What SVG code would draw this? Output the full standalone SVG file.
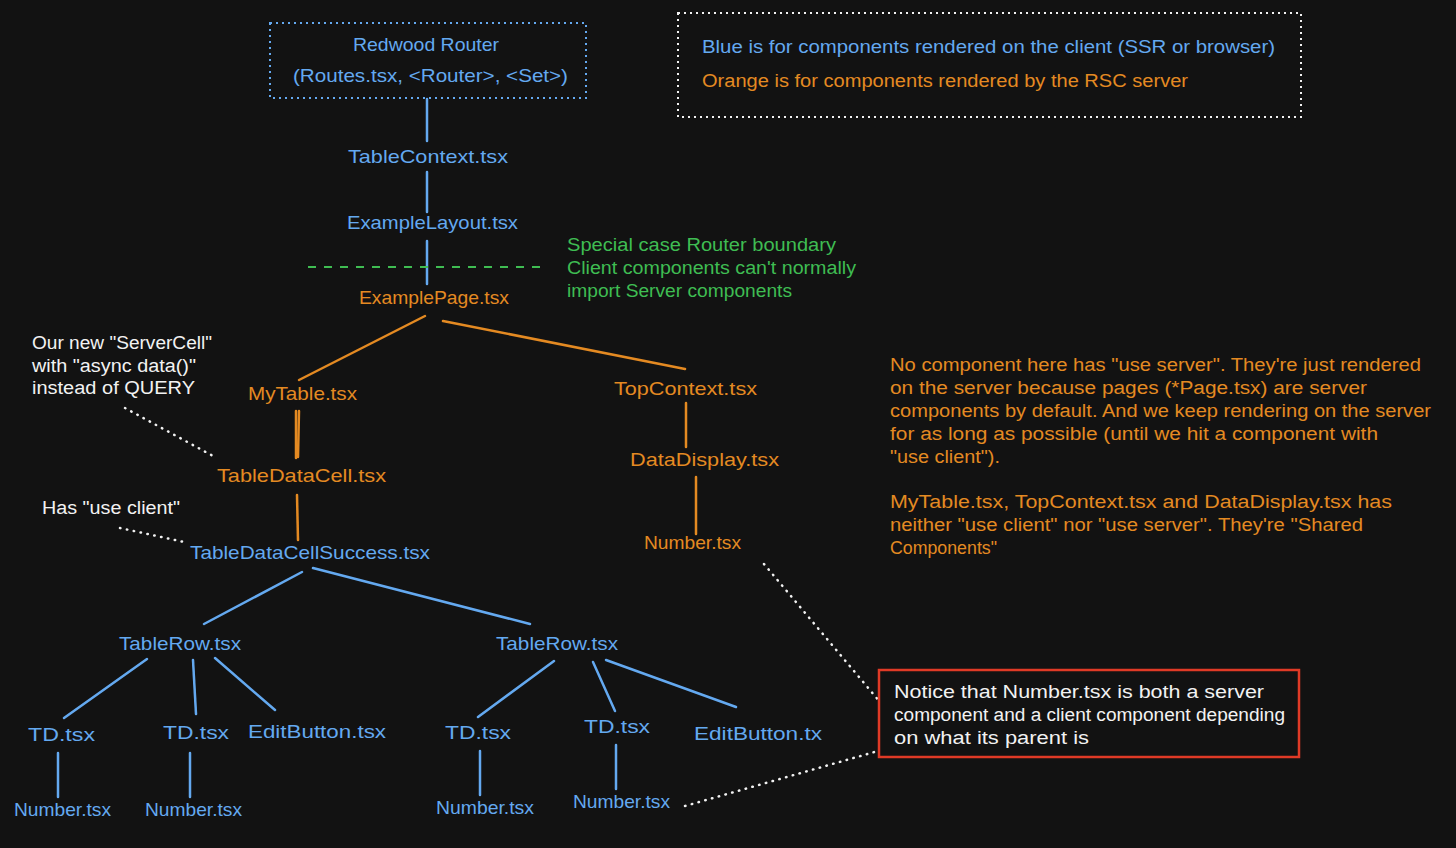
<svg xmlns="http://www.w3.org/2000/svg" width="1456" height="848" viewBox="0 0 1456 848">
<style>
text{font-family:"Liberation Sans","DejaVu Sans",sans-serif;font-size:18px}
.n{font-size:19px}
.b{fill:#64a9f0}
.o{fill:#e48a22}
.g{fill:#3fbd52}
.w{fill:#f2f2f2}
.lb{stroke:#64a9f0;stroke-width:2.5;stroke-linecap:round;fill:none}
.lo{stroke:#e48a22;stroke-width:2.5;stroke-linecap:round;fill:none}
.dot{stroke:#f2f2f2;stroke-width:2.5;stroke-linecap:round;stroke-dasharray:0.5 6.5;fill:none}
</style>
<rect width="1456" height="848" fill="#121212"/>

<g id="connectors">
<line class="lb" x1="427" y1="99" x2="427" y2="141"/>
<line class="lb" x1="427" y1="172" x2="427" y2="212"/>
<line class="lb" x1="427" y1="241" x2="427" y2="284"/>
<line x1="308" y1="267" x2="548" y2="267" stroke="#3fbd52" stroke-width="2" stroke-dasharray="8 8"/>
<line class="lo" x1="425" y1="316" x2="299" y2="380"/>
<line class="lo" x1="443" y1="321" x2="685" y2="369"/>
<line class="lo" x1="296" y1="411" x2="296" y2="458"/>
<line class="lo" x1="299" y1="411" x2="298" y2="457"/>
<line class="lo" x1="686" y1="403" x2="686" y2="447"/>
<line class="lo" x1="297" y1="495" x2="298" y2="540"/>
<line class="lo" x1="696" y1="477" x2="696" y2="534"/>
<line class="lb" x1="302" y1="572" x2="204" y2="624"/>
<line class="lb" x1="313" y1="568" x2="530" y2="624"/>
<line class="lb" x1="147" y1="659" x2="64" y2="718"/>
<line class="lb" x1="193" y1="660" x2="196" y2="714"/>
<line class="lb" x1="215" y1="658" x2="275" y2="710"/>
<line class="lb" x1="58" y1="753" x2="58" y2="797"/>
<line class="lb" x1="190" y1="753" x2="190" y2="797"/>
<line class="lb" x1="554" y1="661" x2="478" y2="717"/>
<line class="lb" x1="593" y1="662" x2="615" y2="711"/>
<line class="lb" x1="606" y1="660" x2="736" y2="707"/>
<line class="lb" x1="480" y1="751" x2="480" y2="795"/>
<line class="lb" x1="616" y1="745" x2="616" y2="789"/>
<line class="dot" x1="125" y1="408" x2="213" y2="456"/>
<line class="dot" x1="120" y1="528" x2="184" y2="542"/>
<line class="dot" x1="764" y1="564" x2="880" y2="702"/>
<line class="dot" x1="685" y1="806" x2="878" y2="751"/>
</g>

<g id="legend">
<rect x="678" y="13" width="623" height="104" fill="none" stroke="#f2f2f2" stroke-width="2" stroke-dasharray="2 4"/>
<text class="b" x="702" y="53" textLength="573" lengthAdjust="spacingAndGlyphs">Blue is for components rendered on the client (SSR or browser)</text>
<text class="o" x="702" y="87" textLength="486" lengthAdjust="spacingAndGlyphs">Orange is for components rendered by the RSC server</text>
</g>

<g id="redwood-router">
<rect x="270" y="23" width="316" height="75" fill="none" stroke="#64a9f0" stroke-width="2" stroke-dasharray="2 4"/>
<text class="b n" x="353" y="51" textLength="146" lengthAdjust="spacingAndGlyphs">Redwood Router</text>
<text class="b n" x="293" y="82" textLength="275" lengthAdjust="spacingAndGlyphs">(Routes.tsx, &lt;Router&gt;, &lt;Set&gt;)</text>
</g>

<g id="table-context"><text class="b n" x="348" y="163" textLength="160" lengthAdjust="spacingAndGlyphs">TableContext.tsx</text></g>
<g id="example-layout"><text class="b n" x="347" y="229" textLength="171" lengthAdjust="spacingAndGlyphs">ExampleLayout.tsx</text></g>

<g id="boundary-note">
<text class="g" x="567" y="251" textLength="269" lengthAdjust="spacingAndGlyphs">Special case Router boundary</text>
<text class="g" x="567" y="274" textLength="289" lengthAdjust="spacingAndGlyphs">Client components can't normally</text>
<text class="g" x="567" y="297" textLength="225" lengthAdjust="spacingAndGlyphs">import Server components</text>
</g>

<g id="example-page"><text class="o n" x="359" y="304" textLength="150" lengthAdjust="spacingAndGlyphs">ExamplePage.tsx</text></g>
<g id="my-table"><text class="o n" x="248" y="400" textLength="109" lengthAdjust="spacingAndGlyphs">MyTable.tsx</text></g>
<g id="top-context"><text class="o n" x="614" y="395" textLength="143" lengthAdjust="spacingAndGlyphs">TopContext.tsx</text></g>
<g id="table-data-cell"><text class="o n" x="217" y="482" textLength="169" lengthAdjust="spacingAndGlyphs">TableDataCell.tsx</text></g>
<g id="data-display"><text class="o n" x="630" y="466" textLength="149" lengthAdjust="spacingAndGlyphs">DataDisplay.tsx</text></g>
<g id="number-server"><text class="o n" x="644" y="549" textLength="97" lengthAdjust="spacingAndGlyphs">Number.tsx</text></g>
<g id="table-data-cell-success"><text class="b n" x="190" y="559" textLength="240" lengthAdjust="spacingAndGlyphs">TableDataCellSuccess.tsx</text></g>

<g id="servercell-note">
<text class="w" x="32" y="349" textLength="180" lengthAdjust="spacingAndGlyphs">Our new "ServerCell"</text>
<text class="w" x="32" y="372" textLength="164" lengthAdjust="spacingAndGlyphs">with "async data()"</text>
<text class="w" x="32" y="394" textLength="163" lengthAdjust="spacingAndGlyphs">instead of QUERY</text>
</g>
<g id="use-client-note"><text class="w" x="42" y="514" textLength="138" lengthAdjust="spacingAndGlyphs">Has "use client"</text></g>

<g id="table-row-1"><text class="b n" x="119" y="650" textLength="122" lengthAdjust="spacingAndGlyphs">TableRow.tsx</text></g>
<g id="table-row-2"><text class="b n" x="496" y="650" textLength="122" lengthAdjust="spacingAndGlyphs">TableRow.tsx</text></g>
<g id="td-1"><text class="b n" x="28" y="741" textLength="67" lengthAdjust="spacingAndGlyphs">TD.tsx</text></g>
<g id="td-2"><text class="b n" x="163" y="739" textLength="66" lengthAdjust="spacingAndGlyphs">TD.tsx</text></g>
<g id="edit-button-1"><text class="b n" x="248" y="738" textLength="138" lengthAdjust="spacingAndGlyphs">EditButton.tsx</text></g>
<g id="td-3"><text class="b n" x="445" y="739" textLength="66" lengthAdjust="spacingAndGlyphs">TD.tsx</text></g>
<g id="td-4"><text class="b n" x="584" y="733" textLength="66" lengthAdjust="spacingAndGlyphs">TD.tsx</text></g>
<g id="edit-button-2"><text class="b n" x="694" y="740" textLength="128" lengthAdjust="spacingAndGlyphs">EditButton.tx</text></g>
<g id="number-1"><text class="b n" x="14" y="816" textLength="97" lengthAdjust="spacingAndGlyphs">Number.tsx</text></g>
<g id="number-2"><text class="b n" x="145" y="816" textLength="97" lengthAdjust="spacingAndGlyphs">Number.tsx</text></g>
<g id="number-3"><text class="b n" x="436" y="814" textLength="98" lengthAdjust="spacingAndGlyphs">Number.tsx</text></g>
<g id="number-4"><text class="b n" x="573" y="808" textLength="97" lengthAdjust="spacingAndGlyphs">Number.tsx</text></g>

<g id="explanation">
<text class="o" x="890" y="371" textLength="531" lengthAdjust="spacingAndGlyphs">No component here has "use server". They're just rendered</text>
<text class="o" x="890" y="394" textLength="477" lengthAdjust="spacingAndGlyphs">on the server because pages (*Page.tsx) are server</text>
<text class="o" x="890" y="417" textLength="541" lengthAdjust="spacingAndGlyphs">components by default. And we keep rendering on the server</text>
<text class="o" x="890" y="440" textLength="488" lengthAdjust="spacingAndGlyphs">for as long as possible (until we hit a component with</text>
<text class="o" x="890" y="463" textLength="110" lengthAdjust="spacingAndGlyphs">"use client").</text>
<text class="o" x="890" y="508" textLength="502" lengthAdjust="spacingAndGlyphs">MyTable.tsx, TopContext.tsx and DataDisplay.tsx has</text>
<text class="o" x="890" y="531" textLength="473" lengthAdjust="spacingAndGlyphs">neither "use client" nor "use server". They're "Shared</text>
<text class="o" x="890" y="554" textLength="107" lengthAdjust="spacingAndGlyphs">Components"</text>
</g>

<g id="notice-note">
<rect x="879" y="670" width="420" height="87" fill="none" stroke="#e03a26" stroke-width="2.5"/>
<text class="w" x="894" y="698" textLength="370" lengthAdjust="spacingAndGlyphs">Notice that Number.tsx is both a server</text>
<text class="w" x="894" y="721" textLength="391" lengthAdjust="spacingAndGlyphs">component and a client component depending</text>
<text class="w" x="894" y="744" textLength="195" lengthAdjust="spacingAndGlyphs">on what its parent is</text>
</g>
</svg>
